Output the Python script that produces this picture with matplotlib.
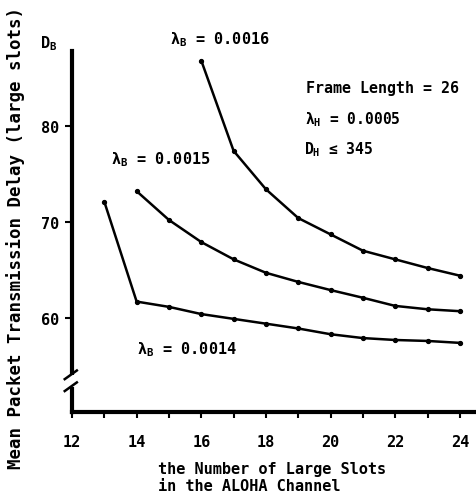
import matplotlib
matplotlib.use('Agg')
import matplotlib.pyplot as plt
from matplotlib.ticker import MultipleLocator, FixedLocator
from matplotlib.lines import Line2D
from matplotlib.patches import Rectangle

plt.rcParams['font.family'] = ['DejaVu Sans Mono', 'DejaVu Sans']
plt.rcParams['font.weight'] = 'bold'
plt.rcParams['mathtext.fontset'] = 'custom'
plt.rcParams['mathtext.rm'] = 'DejaVu Sans Mono:bold'
plt.rcParams['mathtext.it'] = 'DejaVu Sans Mono:bold'
plt.rcParams['mathtext.bf'] = 'DejaVu Sans Mono:bold'

# Data
x_0016 = [16, 17, 18, 19, 20, 21, 22, 23, 24]
y_0016 = [86.8, 77.4, 73.4, 70.4, 68.7, 67.0, 66.1, 65.2, 64.4]
x_0015 = [14, 15, 16, 17, 18, 19, 20, 21, 22, 23, 24]
y_0015 = [73.2, 70.2, 67.9, 66.1, 64.7, 63.75, 62.9, 62.1, 61.25, 60.9, 60.7]
x_0014 = [13, 14, 15, 16, 17, 18, 19, 20, 21, 22, 23, 24]
y_0014 = [72.1, 61.7, 61.15, 60.4, 59.9, 59.4, 58.9, 58.3, 57.9, 57.7, 57.6, 57.4]

x_ticks = [12, 14, 16, 18, 20, 22, 24]
y_ticks = [60, 70, 80]

W, H = 476, 502
fig = plt.figure(figsize=(W / 100, H / 100), dpi=100)
ax = fig.add_axes([72 / W, 1 - 413 / H, 1 - 72 / W, (413 - 52) / H])

for xs, ys in [(x_0016, y_0016), (x_0015, y_0015), (x_0014, y_0014)]:
    ax.plot(xs, ys, color='black', lw=1.8, marker='o', ms=2.8,
            solid_capstyle='round', clip_on=False)

ax.set_xlim(12, 24.5)
ax.set_ylim(50.2, 87.8)

for s in ['top', 'right']:
    ax.spines[s].set_visible(False)
ax.spines['left'].set_linewidth(3)
ax.spines['bottom'].set_linewidth(3)

ax.xaxis.set_major_locator(FixedLocator(x_ticks))
ax.xaxis.set_minor_locator(MultipleLocator(1))
ax.yaxis.set_major_locator(FixedLocator(y_ticks))
ax.tick_params(axis='x', which='both', direction='out', length=4, width=1.5, pad=12, labelsize=11)
ax.tick_params(axis='y', which='major', direction='out', length=5, width=1.5, pad=4, labelsize=11)
ax.tick_params(axis='y', which='minor', length=0)

# axis break on the y axis
ax.add_patch(Rectangle((-0.03, 0.07), 0.06, 0.033, transform=ax.transAxes,
                       facecolor='white', edgecolor='none', clip_on=False, zorder=5))
for dy in (0.07, 0.103):
    ax.add_line(Line2D([-0.018, 0.012], [dy - 0.012, dy + 0.012], transform=ax.transAxes,
                       color='black', lw=1.8, clip_on=False, zorder=6))

def ftext(px, py, s, **kw):
    fig.text(px / W, 1 - py / H, s, **kw)

fs = 11
ftext(40, 44, r'$\mathrm{D_B}$', fontsize=fs, va='center', ha='left')
ftext(170, 40, r'$\lambda_{\mathrm{B}}$ = 0.0016', fontsize=fs, va='center', ha='left')
ftext(111, 160, r'$\lambda_{\mathrm{B}}$ = 0.0015', fontsize=fs, va='center', ha='left')
ftext(137, 350, r'$\lambda_{\mathrm{B}}$ = 0.0014', fontsize=fs, va='center', ha='left')
ftext(306, 89, 'Frame Length = 26', fontsize=10.8, va='center', ha='left')
ftext(305, 120, r'$\lambda_{\mathrm{H}}$ = 0.0005', fontsize=10.5, va='center', ha='left')
ftext(304, 150, r'$\mathrm{D_H}$ ≤ 345', fontsize=10.5, va='center', ha='left')

ftext(16, 238, 'Mean Packet Transmission Delay (large slots)', fontsize=12.5,
      rotation=90, va='center', ha='center')
ftext(158, 478, 'the Number of Large Slots\nin the ALOHA Channel', fontsize=11,
      va='center', ha='left', linespacing=1.1)

fig.savefig('out.png', dpi=100)
